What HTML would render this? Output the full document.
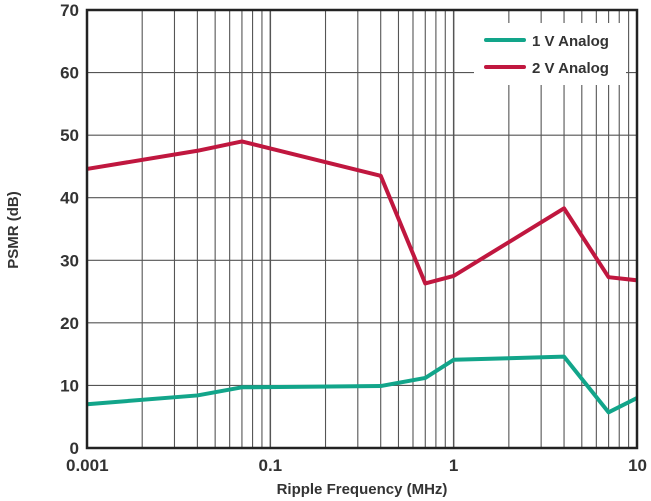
<!DOCTYPE html>
<html><head><meta charset="utf-8"><style>
body{margin:0;background:#fff;}
svg{display:block;font-family:"Liberation Sans",sans-serif;font-weight:bold;}
</style></head><body>
<svg id="chart" width="651" height="501" viewBox="0 0 651 501">
<g id="grid"></g>
<g id="series"></g>
<g id="axes"></g>
<text x="18" y="230" transform="rotate(-90 18 230)" text-anchor="middle" font-size="15" fill="#333">PSMR (dB)</text>
<text x="362" y="494" text-anchor="middle" font-size="15" fill="#333">Ripple Frequency (MHz)</text>
<g>
<rect x="474" y="23" width="152" height="62" fill="#fff"/>
<line x1="486" y1="40" x2="524" y2="40" stroke="#12a58a" stroke-width="4" stroke-linecap="round"/>
<text x="532" y="46" font-size="15" fill="#333">1 V Analog</text>
<line x1="486" y1="67" x2="524" y2="67" stroke="#c0173f" stroke-width="4" stroke-linecap="round"/>
<text x="532" y="73" font-size="15" fill="#333">2 V Analog</text>
</g>
</svg>
<script>
const freq1V = [0.01, 0.04, 0.07, 0.4, 0.7, 1, 4, 7, 10];
const psmr1V = [7, 8.4, 9.7, 9.9, 11.2, 14.1, 14.6, 5.7, 8];
const freq2V = [0.01, 0.04, 0.07, 0.4, 0.7, 1, 4, 7, 10];
const psmr2V = [44.6, 47.5, 49, 43.5, 26.3, 27.5, 38.3, 27.3, 26.8];
const xTickValues = [0.01, 0.1, 1, 10];
const xTickLabels = ["0.001", "0.1", "1", "10"];
const yTickValues = [0, 10, 20, 30, 40, 50, 60, 70];

const L=87,R=637,T=10,B=448,xMin=0.01,xMax=10,yMin=0,yMax=70;
const NS="http://www.w3.org/2000/svg";
function xs(v){return L+(Math.log10(v)-Math.log10(xMin))/(Math.log10(xMax)-Math.log10(xMin))*(R-L);}
function ys(v){return B-(v-yMin)/(yMax-yMin)*(B-T);}
function mk(tag,attrs,parent){const e=document.createElementNS(NS,tag);for(const k in attrs)e.setAttribute(k,attrs[k]);parent.appendChild(e);return e;}
const grid=document.getElementById('grid'),axes=document.getElementById('axes'),series=document.getElementById('series');
for(let d=-2;d<1;d++){for(let m=1;m<10;m++){const v=m*Math.pow(10,d);const x=xs(v);
 const g=mk('line',{x1:x,y1:T,x2:x,y2:B,stroke:'#555','stroke-width':m===1?1.5:1.1},grid);
 
 }}
yTickValues.forEach(v=>{const y=ys(v);
 const g=mk('line',{x1:L,y1:y,x2:R,y2:y,stroke:'#555','stroke-width':1.1},grid);
 
 
 const t=mk('text',{x:L-8,y:y+6,'text-anchor':'end','font-size':17,fill:'#333'},axes);t.textContent=v;
 
 });
xTickValues.forEach((v,i)=>{const x=xs(v);
 const anchor=i===0?'start':(i===xTickValues.length-1?'end':'middle');
 const t=mk('text',{x:i===0?x-21:(i===xTickValues.length-1?x+10:x),y:471,'text-anchor':anchor,'font-size':17,fill:'#333'},axes);t.textContent=xTickLabels[i];
 
 });
const frame=mk('rect',{x:L,y:T,width:R-L,height:B-T,fill:'none',stroke:'#222','stroke-width':2.5},axes);


function line(fx,fy,color,name){const p=mk('polyline',{points:fx.map((f,i)=>xs(f)+','+ys(fy[i])).join(' '),fill:'none',stroke:color,'stroke-width':4,'stroke-linejoin':'round'},series);
 
 }
line(freq2V,psmr2V,'#c0173f','line-2v-analog');
line(freq1V,psmr1V,'#12a58a','line-1v-analog');
</script>
</body></html>
